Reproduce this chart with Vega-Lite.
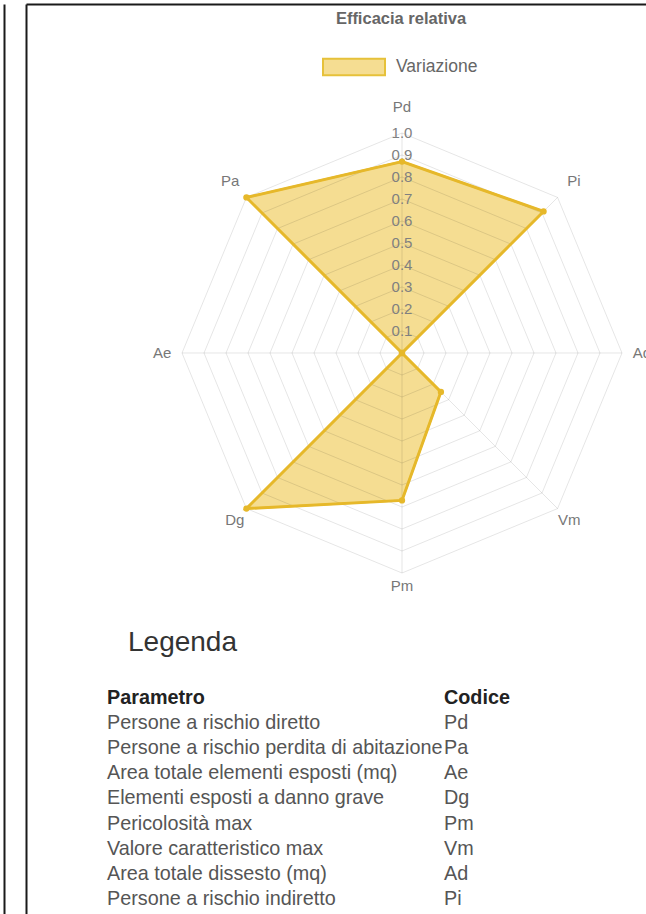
{
  "$schema": "https://vega.github.io/schema/vega-lite/v6.json",
  "autosize": "none",
  "width": 620,
  "height": 910,
  "padding": {"left": 26, "top": 4, "right": 0, "bottom": 0},
  "background": "white",
  "config": {"view": {"stroke": null}, "font": "Liberation Sans"},
  "title": {"text": "Efficacia relativa", "anchor": "middle", "frame": "group", "orient": "top", "offset": -15, "dx": 65, "dy": 16, "baseline": "middle", "fontSize": 16.5, "fontWeight": "bold", "color": "#666666", "font": "Liberation Sans"},
  "datasets": {
    "params": [
      {"row": 1, "code": "Pd", "param": "Persone a rischio diretto", "value": 0.87},
      {"row": 2, "code": "Pa", "param": "Persone a rischio perdita di abitazione", "value": 1.0},
      {"row": 3, "code": "Ae", "param": "Area totale elementi esposti (mq)", "value": 0},
      {"row": 4, "code": "Dg", "param": "Elementi esposti a danno grave", "value": 1.0},
      {"row": 5, "code": "Pm", "param": "Pericolosità max", "value": 0.67},
      {"row": 6, "code": "Vm", "param": "Valore caratteristico max", "value": 0.25},
      {"row": 7, "code": "Ad", "param": "Area totale dissesto (mq)", "value": 0},
      {"row": 8, "code": "Pi", "param": "Persone a rischio indiretto", "value": 0.91}
    ],
    "levels": [
      {"level": 0.1, "axes": [1, 2, 3, 4, 5, 6, 7, 8]},
      {"level": 0.2, "axes": [1, 2, 3, 4, 5, 6, 7, 8]},
      {"level": 0.3, "axes": [1, 2, 3, 4, 5, 6, 7, 8]},
      {"level": 0.4, "axes": [1, 2, 3, 4, 5, 6, 7, 8]},
      {"level": 0.5, "axes": [1, 2, 3, 4, 5, 6, 7, 8]},
      {"level": 0.6, "axes": [1, 2, 3, 4, 5, 6, 7, 8]},
      {"level": 0.7, "axes": [1, 2, 3, 4, 5, 6, 7, 8]},
      {"level": 0.8, "axes": [1, 2, 3, 4, 5, 6, 7, 8]},
      {"level": 0.9, "axes": [1, 2, 3, 4, 5, 6, 7, 8]},
      {"level": 1.0, "axes": [1, 2, 3, 4, 5, 6, 7, 8]}
    ],
    "header": [
      {"row": 0, "code": "Codice", "param": "Parametro"}
    ]
  },
  "layer": [
    {
      "data": {"name": "params"},
      "transform": [
        {"calculate": "-(datum.row-1)*PI/4", "as": "angle"},
        {"calculate": "datum.value*sin(datum.angle)", "as": "px"},
        {"calculate": "datum.value*cos(datum.angle)", "as": "py"}
      ],
      "mark": {"type": "line", "interpolate": "linear-closed", "strokeWidth": 2, "stroke": "#E6C13A", "fillOpacity": 1},
      "encoding": {
        "x": {"field": "px", "type": "quantitative", "scale": {"domain": [-1.70909, 1.10909], "nice": false, "zero": false}, "axis": null},
        "y": {"field": "py", "type": "quantitative", "scale": {"domain": [-2.55, 1.58636], "nice": false, "zero": false}, "axis": null},
        "order": {"field": "row", "type": "quantitative"},
        "fill": {"datum": "Variazione", "type": "nominal", "scale": {"range": ["#F5DD92"]}, "legend": {"orient": "none", "legendX": 296, "legendY": 31, "title": null, "padding": 0, "symbolType": "M-1,-0.27L1,-0.27L1,0.27L-1,0.27Z", "symbolSize": 3844, "symbolStrokeWidth": 2, "symbolStrokeColor": "#E6C13A", "labelFontSize": 17.5, "labelColor": "#666666", "labelOffset": 10, "labelFont": "Liberation Sans"}}
      }
    },
    {
      "data": {"name": "levels"},
      "transform": [
        {"flatten": ["axes"], "as": ["row"]},
        {"calculate": "-(datum.row-1)*PI/4", "as": "angle"},
        {"calculate": "datum.level*sin(datum.angle)", "as": "px"},
        {"calculate": "datum.level*cos(datum.angle)", "as": "py"}
      ],
      "mark": {"type": "line", "interpolate": "linear-closed", "stroke": "#000000", "strokeOpacity": 0.1, "strokeWidth": 1},
      "encoding": {
        "x": {"field": "px", "type": "quantitative", "scale": {"domain": [-1.70909, 1.10909], "nice": false, "zero": false}, "axis": {"orient": "top", "domain": true, "domainColor": "#1a1a1a", "domainWidth": 2, "ticks": false, "labels": false, "grid": false, "title": null}},
        "y": {"field": "py", "type": "quantitative", "scale": {"domain": [-2.55, 1.58636], "nice": false, "zero": false}, "axis": {"orient": "left", "domain": true, "domainColor": "#1a1a1a", "domainWidth": 2, "ticks": false, "labels": false, "grid": false, "title": null}},
        "detail": {"field": "level", "type": "nominal"},
        "order": {"field": "row", "type": "quantitative"}
      }
    },
    {
      "data": {"name": "params"},
      "transform": [
        {"calculate": "-(datum.row-1)*PI/4", "as": "angle"},
        {"calculate": "sin(datum.angle)", "as": "px"},
        {"calculate": "cos(datum.angle)", "as": "py"},
        {"calculate": "0", "as": "cx"},
        {"calculate": "0", "as": "cy"}
      ],
      "mark": {"type": "rule", "stroke": "#000000", "strokeOpacity": 0.1, "strokeWidth": 1},
      "encoding": {
        "x": {"field": "px", "type": "quantitative", "scale": {"domain": [-1.70909, 1.10909], "nice": false, "zero": false}, "axis": null},
        "y": {"field": "py", "type": "quantitative", "scale": {"domain": [-2.55, 1.58636], "nice": false, "zero": false}, "axis": null},
        "x2": {"field": "cx"},
        "y2": {"field": "cy"}
      }
    },
    {
      "data": {"name": "levels"},
      "transform": [
        {"calculate": "0", "as": "px"},
        {"calculate": "datum.level", "as": "py"}
      ],
      "mark": {"type": "text", "fontSize": 15, "color": "#808080", "align": "center", "baseline": "middle"},
      "encoding": {
        "x": {"field": "px", "type": "quantitative", "scale": {"domain": [-1.70909, 1.10909], "nice": false, "zero": false}, "axis": null},
        "y": {"field": "py", "type": "quantitative", "scale": {"domain": [-2.55, 1.58636], "nice": false, "zero": false}, "axis": null},
        "text": {"field": "level", "type": "quantitative", "format": ".1f"}
      }
    },
    {
      "data": {"name": "params"},
      "transform": [
        {"calculate": "-(datum.row-1)*PI/4", "as": "angle"},
        {"calculate": "datum.value*sin(datum.angle)", "as": "px"},
        {"calculate": "datum.value*cos(datum.angle)", "as": "py"}
      ],
      "mark": {"type": "line", "interpolate": "linear-closed", "strokeWidth": 3, "stroke": "#E6B82A"},
      "encoding": {
        "x": {"field": "px", "type": "quantitative", "scale": {"domain": [-1.70909, 1.10909], "nice": false, "zero": false}, "axis": null},
        "y": {"field": "py", "type": "quantitative", "scale": {"domain": [-2.55, 1.58636], "nice": false, "zero": false}, "axis": null},
        "order": {"field": "row", "type": "quantitative"}
      }
    },
    {
      "data": {"name": "params"},
      "transform": [
        {"calculate": "-(datum.row-1)*PI/4", "as": "angle"},
        {"calculate": "datum.value*sin(datum.angle)", "as": "px"},
        {"calculate": "datum.value*cos(datum.angle)", "as": "py"}
      ],
      "mark": {"type": "circle", "size": 40, "color": "#E6B82A", "opacity": 1},
      "encoding": {
        "x": {"field": "px", "type": "quantitative", "scale": {"domain": [-1.70909, 1.10909], "nice": false, "zero": false}, "axis": null},
        "y": {"field": "py", "type": "quantitative", "scale": {"domain": [-2.55, 1.58636], "nice": false, "zero": false}, "axis": null}
      }
    },
    {
      "data": {"name": "params"},
      "transform": [
        {"calculate": "-(datum.row-1)*PI/4", "as": "angle"},
        {"calculate": "1.09+0.03*cos(datum.angle)*abs(cos(datum.angle))", "as": "lr"},
        {"calculate": "datum.lr*sin(datum.angle)", "as": "px"},
        {"calculate": "datum.lr*cos(datum.angle)", "as": "py"}
      ],
      "mark": {"type": "text", "fontSize": 15, "color": "#777777", "align": "center", "baseline": "middle"},
      "encoding": {
        "x": {"field": "px", "type": "quantitative", "scale": {"domain": [-1.70909, 1.10909], "nice": false, "zero": false}, "axis": null},
        "y": {"field": "py", "type": "quantitative", "scale": {"domain": [-2.55, 1.58636], "nice": false, "zero": false}, "axis": null},
        "text": {"field": "code", "type": "nominal"}
      }
    },
    {
      "data": {"name": "header"},
      "mark": {"type": "text", "text": "Legenda", "fontSize": 28, "color": "#333333", "align": "left", "baseline": "middle", "dx": 21, "dy": -55},
      "encoding": {
        "x": {"datum": "param", "type": "nominal", "scale": {"type": "point", "domain": ["param", "code"], "range": [81, 418], "padding": 0}, "axis": null},
        "y": {"field": "row", "type": "quantitative", "scale": {"domain": [-27.6, 8.597], "reverse": true, "nice": false, "zero": false}, "axis": {"orient": "left", "offset": 22, "domain": true, "domainColor": "#1a1a1a", "domainWidth": 2, "ticks": false, "labels": false, "grid": false, "title": null}}
      }
    },
    {
      "data": {"name": "header"},
      "transform": [{"fold": ["param", "code"], "as": ["col", "txt"]}],
      "mark": {"type": "text", "fontSize": 19.8, "fontWeight": "bold", "color": "#222222", "align": "left", "baseline": "middle"},
      "encoding": {
        "x": {"field": "col", "type": "nominal", "scale": {"type": "point", "domain": ["param", "code"], "range": [81, 418], "padding": 0}, "axis": null},
        "y": {"field": "row", "type": "quantitative", "scale": {"domain": [-27.6, 8.597], "reverse": true, "nice": false, "zero": false}, "axis": null},
        "text": {"field": "txt", "type": "nominal"}
      }
    },
    {
      "data": {"name": "params"},
      "transform": [{"fold": ["param", "code"], "as": ["col", "txt"]}],
      "mark": {"type": "text", "fontSize": 19.8, "color": "#555555", "align": "left", "baseline": "middle"},
      "encoding": {
        "x": {"field": "col", "type": "nominal", "scale": {"type": "point", "domain": ["param", "code"], "range": [81, 418], "padding": 0}, "axis": null},
        "y": {"field": "row", "type": "quantitative", "scale": {"domain": [-27.6, 8.597], "reverse": true, "nice": false, "zero": false}, "axis": null},
        "text": {"field": "txt", "type": "nominal"}
      }
    }
  ],
  "resolve": {"scale": {"x": "independent", "y": "independent"}, "axis": {"x": "independent", "y": "independent"}}
}
